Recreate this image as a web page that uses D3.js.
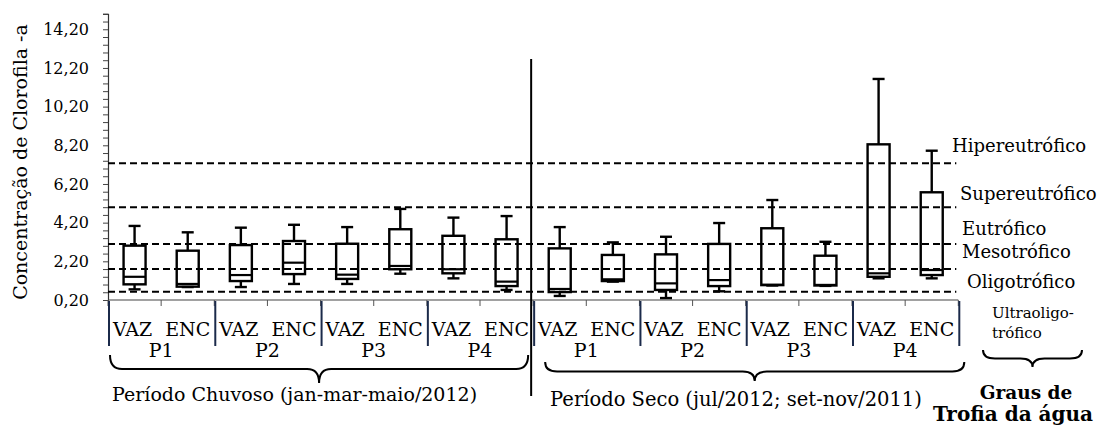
<!DOCTYPE html>
<html>
<head>
<meta charset="utf-8">
<script src="https://cdn.jsdelivr.net/npm/d3@7/dist/d3.min.js"></script>
<style>
  html, body { margin: 0; padding: 0; background: #fff; }
  svg { display: block; }
  text { font-family: "DejaVu Serif", serif; fill: #000; }
</style>
</head>
<body>
<svg id="chart" width="1100" height="425"></svg>
<script>
// Chlorophyll-a concentration by sampling point, tide (VAZ/ENC) and season
const campaigns = ["VAZ", "ENC"];
const points = ["P1", "P2", "P3", "P4"];
const periods = ["Período Chuvoso (jan-mar-maio/2012)", "Período Seco (jul/2012; set-nov/2011)"];

// Five-number summaries, one entry per box (rainy P1 VAZ ... dry P4 ENC)
const boxMin = [0.75, 0.87, 0.87, 1.03, 1.03, 1.56, 1.32, 0.72, 0.41, 1.15, 0.30, 0.65, 0.95, 0.93, 1.32, 1.32];
const boxQ1  = [1.01, 0.89, 1.18, 1.54, 1.29, 1.79, 1.58, 0.92, 0.61, 1.18, 0.72, 0.92, 0.97, 0.95, 1.40, 1.49];
const boxMed = [1.40, 1.03, 1.49, 2.13, 1.51, 1.96, 1.79, 1.15, 0.77, 1.27, 1.06, 1.23, 0.99, 0.98, 1.58, 1.75];
const boxQ3  = [3.01, 2.75, 3.04, 3.25, 3.11, 3.86, 3.52, 3.34, 2.87, 2.53, 2.56, 3.10, 3.91, 2.49, 8.25, 5.77];
const boxMax = [4.03, 3.70, 3.94, 4.09, 3.97, 4.91, 4.46, 4.54, 3.97, 3.18, 3.47, 4.18, 5.37, 3.21, 11.63, 7.92];

// Trophic state thresholds and the class named just above each one
const trophicLimits = [0.63, 1.80, 3.10, 5.00, 7.27];
const trophicNames = ["Oligotrófico", "Mesotrófico", "Eutrófico", "Supereutrófico", "Hipereutrófico"];

// Y axis ticks
const yMin = 0.2, yMax = 15.0;
const yMajorTicks = [0.2, 2.2, 4.2, 6.2, 8.2, 10.2, 12.2, 14.2];
const yTickLabels = ["0,20", "2,20", "4,20", "6,20", "8,20", "10,20", "12,20", "14,20"];
const yMinorStep = 0.4;

const svg = d3.select("#chart");

const categories = [];
periods.forEach((p, pi) => points.forEach((pt, ki) => campaigns.forEach((c, ci) => {
  categories.push({ period: pi, point: pt, campaign: c, id: pi + "-" + pt + "-" + c });
})));

const plotLeft = 108, plotRight = 958.3, plotTop = 13.8, plotBottom = 300;

const x = d3.scaleBand().domain(categories.map(d => d.id)).range([plotLeft, plotRight]).padding(0);
const y = d3.scaleLinear().domain([yMin, yMax]).range([plotBottom, plotTop]);

const bw = x.bandwidth();
const boxW = bw * 0.414;
const capW = bw * 0.226;
const sw = 2.4;

// Y axis with minor ticks every 0.4
const allTicks = d3.range(0, Math.round((yMax - yMin) / yMinorStep) + 1).map(i => +(yMin + i * yMinorStep).toFixed(2));
const yAxis = d3.axisLeft(y).tickValues(allTicks).tickSize(5).tickPadding(14)
  .tickFormat(v => {
    const k = yMajorTicks.findIndex(m => Math.abs(m - v) < 1e-6);
    return k >= 0 ? yTickLabels[k] : "";
  });
const gy = svg.append("g").attr("transform", `translate(${plotLeft},0)`).call(yAxis);
gy.select(".domain").attr("stroke", "#333").attr("stroke-width", 1.2);
gy.selectAll(".tick line").attr("stroke", "#444").attr("stroke-width", 1);
gy.selectAll(".tick text").style("font-family", "DejaVu Serif").style("font-size", "16px").attr("fill", "#000");

// Y axis title
svg.append("text")
  .attr("transform", `translate(27,162) rotate(-90)`)
  .attr("text-anchor", "middle")
  .style("font-size", "19px")
  .text("Concentração de Clorofila -a");

// X axis line and category ticks
svg.append("line").attr("x1", plotLeft).attr("x2", plotRight).attr("y1", plotBottom).attr("y2", plotBottom)
  .attr("stroke", "#444").attr("stroke-width", 1.2);
const boundaries = categories.map(d => x(d.id)).concat([plotRight]);
svg.append("g").selectAll("line").data(boundaries).join("line")
  .attr("x1", d => d).attr("x2", d => d).attr("y1", plotBottom).attr("y2", plotBottom + 6)
  .attr("stroke", "#555").attr("stroke-width", 1);

// Dividers between sampling points
const groupEdges = boundaries.filter((d, i) => i % 2 === 0);
svg.append("g").selectAll("line").data(groupEdges).join("line")
  .attr("x1", d => d + 1).attr("x2", d => d + 1).attr("y1", plotBottom + 1).attr("y2", plotBottom + 46)
  .attr("stroke", "#1b2a4a").attr("stroke-width", 2);

// Trophic threshold lines
svg.append("g").selectAll("line").data(trophicLimits).join("line")
  .attr("x1", plotLeft).attr("x2", plotRight - 2)
  .attr("y1", d => y(d)).attr("y2", d => y(d))
  .attr("stroke", "#000").attr("stroke-width", 2).attr("stroke-dasharray", "7,4");

// Boxes
const boxes = svg.append("g").selectAll("g").data(categories).join("g")
  .attr("transform", d => `translate(${x(d.id) + bw / 2},0)`);
boxes.append("line")
  .attr("y1", (d, i) => y(boxMax[i])).attr("y2", (d, i) => y(boxQ3[i]))
  .attr("stroke", "#000").attr("stroke-width", sw);
boxes.append("line")
  .attr("y1", (d, i) => y(boxQ1[i])).attr("y2", (d, i) => y(boxMin[i]))
  .attr("stroke", "#000").attr("stroke-width", sw);
boxes.append("line")
  .attr("x1", -capW / 2).attr("x2", capW / 2)
  .attr("y1", (d, i) => y(boxMax[i])).attr("y2", (d, i) => y(boxMax[i]))
  .attr("stroke", "#000").attr("stroke-width", sw);
boxes.append("line")
  .attr("x1", -capW / 2).attr("x2", capW / 2)
  .attr("y1", (d, i) => y(boxMin[i])).attr("y2", (d, i) => y(boxMin[i]))
  .attr("stroke", "#000").attr("stroke-width", sw);
boxes.append("rect")
  .attr("x", -boxW / 2).attr("width", boxW)
  .attr("y", (d, i) => y(boxQ3[i])).attr("height", (d, i) => y(boxQ1[i]) - y(boxQ3[i]))
  .attr("fill", "none").attr("stroke", "#000").attr("stroke-width", sw);
boxes.append("line")
  .attr("x1", -boxW / 2).attr("x2", boxW / 2)
  .attr("y1", (d, i) => y(boxMed[i])).attr("y2", (d, i) => y(boxMed[i]))
  .attr("stroke", "#000").attr("stroke-width", 2.2);

// Season separator
const sepX = x(categories[8].id) - 2;
svg.append("line").attr("x1", sepX).attr("x2", sepX).attr("y1", 59).attr("y2", 396)
  .attr("stroke", "#000").attr("stroke-width", 2);

// Category labels
svg.append("g").selectAll("text").data(categories).join("text")
  .attr("x", d => x(d.id) + bw / 2 + (d.campaign === "VAZ" ? -2 : 0))
  .attr("y", 336)
  .attr("text-anchor", "middle")
  .style("font-size", "19px")
  .text(d => d.campaign);

// Sampling point labels
const groups = d3.range(8).map(g => ({ label: points[g % 4], cx: (groupEdges[g] + groupEdges[g + 1]) / 2 }));
svg.append("g").selectAll("text").data(groups).join("text")
  .attr("x", d => d.cx).attr("y", 357)
  .attr("text-anchor", "middle")
  .style("font-size", "19px")
  .text(d => d.label);

// Curly braces opening upward
function brace(x0, x1, top, tip) {
  const cx = (x0 + x1) / 2;
  const mid = top + (tip - top) * 0.5;
  const r = 12;
  return `M${x0},${top} Q${x0},${mid} ${x0 + r},${mid} L${cx - r},${mid} Q${cx},${mid} ${cx},${tip}` +
         ` Q${cx},${mid} ${cx + r},${mid} L${x1 - r},${mid} Q${x1},${mid} ${x1},${top}`;
}
const braceSpecs = [
  [groupEdges[0] + 2, groupEdges[4] - 5, 355, 383],
  [groupEdges[4] + 12, groupEdges[8] + 6, 362, 381],
  [983, 1082, 350, 367]
];
svg.append("g").selectAll("path").data(braceSpecs).join("path")
  .attr("d", d => brace(...d))
  .attr("fill", "none").attr("stroke", "#000").attr("stroke-width", 2);

// Season labels
svg.append("text").attr("x", (groupEdges[0] + groupEdges[4]) / 2 - 26).attr("y", 401)
  .attr("text-anchor", "middle").style("font-size", "19px").text(periods[0]);
svg.append("text").attr("x", 736).attr("y", 406)
  .attr("text-anchor", "middle").style("font-size", "19.5px").text(periods[1]);

// Trophic class labels
const nameOffsets = [4, 11, 9, 7, 11];
const nameX = [967, 962, 962, 960, 952];
svg.append("g").selectAll("text").data(trophicLimits).join("text")
  .attr("x", (d, i) => nameX[i])
  .attr("y", (d, i) => y(d) - nameOffsets[i])
  .style("font-size", "18px")
  .text((d, i) => trophicNames[i]);

svg.append("text").attr("x", 992).attr("y", 318).style("font-size", "15px").text("Ultraoligo-");
svg.append("text").attr("x", 992).attr("y", 338).style("font-size", "15px").text("trófico");

svg.append("text").attr("x", 1026).attr("y", 399).attr("text-anchor", "middle")
  .style("font-size", "18.5px").style("font-weight", "bold").text("Graus de");
svg.append("text").attr("x", 1013).attr("y", 421).attr("text-anchor", "middle")
  .style("font-size", "20px").style("font-weight", "bold").text("Trofia da água");
</script>
</body>
</html>
